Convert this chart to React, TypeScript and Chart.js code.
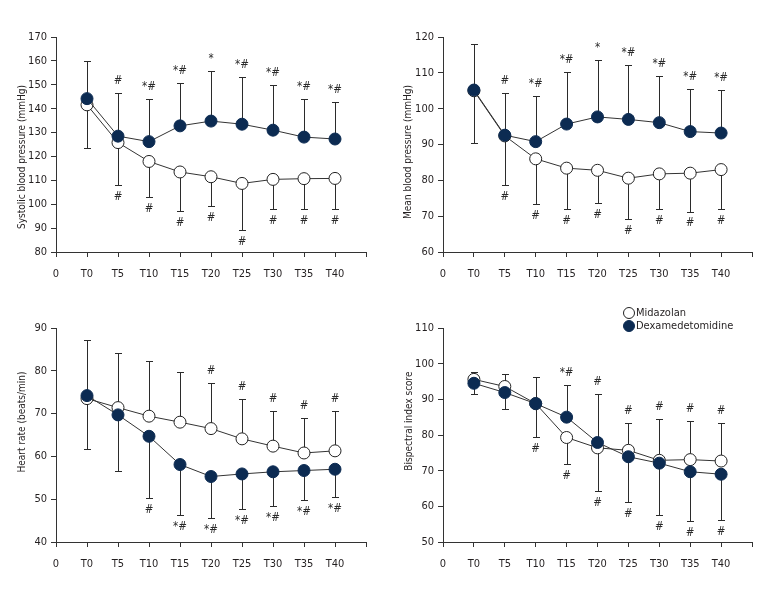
import React, { useEffect, useRef } from "react";
import { Chart, registerables } from "chart.js";

Chart.register(...registerables);

const FONT = '"Liberation Sans Narrow", "DejaVu Sans Condensed", "Liberation Sans", sans-serif';
const INK = "#231f20";
const NAVY = "#0c2b52";

// ---- categories / labels ----
const TIMEPOINTS = ["T0", "T5", "T10", "T15", "T20", "T25", "T30", "T35", "T40"];
const X_TICK_LABELS = ["0", ...TIMEPOINTS, ""];
const SERIES_NAMES = ["Midazolan", "Dexamedetomidine"];

// ---- Systolic blood pressure ----
const SBP_MID = [141.6, 125.8, 117.9, 113.5, 111.5, 108.7, 110.4, 110.7, 110.8];
const SBP_DEX = [144.2, 128.5, 126.2, 132.8, 134.8, 133.5, 131.0, 128.1, 127.3];
const SBP_DEX_UP = [160.1, 146.5, 144.0, 150.8, 155.6, 153.2, 149.8, 144.1, 142.7];
const SBP_MID_DOWN = [123.5, 107.9, 103.1, 97.3, 99.4, 89.3, 98.0, 98.2, 98.2];
const SBP_UP_MARKS = ["", "#", "*#", "*#", "*", "*#", "*#", "*#", "*#"];
const SBP_DOWN_MARKS = ["", "#", "#", "#", "#", "#", "#", "#", "#"];

// ---- Mean blood pressure ----
const MBP_MID = [105.0, 92.4, 86.0, 83.4, 82.8, 80.6, 81.8, 82.0, 83.0];
const MBP_DEX = [105.2, 92.6, 90.8, 95.7, 97.7, 97.0, 96.1, 93.6, 93.2];
const MBP_DEX_UP = [118.1, 104.3, 103.5, 110.2, 113.6, 112.1, 109.0, 105.4, 105.3];
const MBP_MID_DOWN = [90.3, 78.6, 73.3, 71.9, 73.8, 69.1, 72.1, 71.3, 72.1];
const MBP_UP_MARKS = ["", "#", "*#", "*#", "*", "*#", "*#", "*#", "*#"];
const MBP_DOWN_MARKS = ["", "#", "#", "#", "#", "#", "#", "#", "#"];

// ---- Heart rate ----
const HR_MID = [73.5, 71.4, 69.4, 68.0, 66.5, 64.1, 62.4, 60.8, 61.3];
const HR_DEX = [74.2, 69.7, 64.7, 58.1, 55.3, 55.9, 56.4, 56.7, 57.0];
const HR_MID_UP = [87.1, 84.1, 82.2, 79.7, 77.1, 73.5, 70.6, 68.9, 70.5];
const HR_DEX_DOWN = [61.7, 56.7, 50.3, 46.4, 45.7, 47.6, 48.4, 49.8, 50.5];
const HR_UP_MARKS = ["", "", "", "", "#", "#", "#", "#", "#"];
const HR_DOWN_MARKS = ["", "", "#", "*#", "*#", "*#", "*#", "*#", "*#"];

// ---- Bispectral index ----
const BIS_MID = [95.6, 93.6, 88.8, 79.3, 76.4, 75.7, 72.9, 73.1, 72.7];
const BIS_DEX = [94.5, 91.9, 88.8, 85.0, 77.9, 73.9, 72.1, 69.7, 69.0];
const BIS_MID_UP = [97.8, 97.2, 96.4, null, null, 83.5, 84.5, 84.0, 83.3];
const BIS_DEX_UP = [null, null, null, 94.1, 91.5, null, null, null, null];
const BIS_MID_DOWN = [null, null, null, 71.8, 64.3, null, null, null, null];
const BIS_DEX_DOWN = [91.6, 87.4, 79.3, null, null, 61.1, 57.5, 56.0, 56.3];
const BIS_MID_UP_MARKS = ["", "", "", "", "", "#", "#", "#", "#"];
const BIS_DEX_UP_MARKS = ["", "", "", "*#", "#", "", "", "", ""];
const BIS_MID_DOWN_MARKS = ["", "", "", "#", "#", "", "", "", ""];
const BIS_DEX_DOWN_MARKS = ["", "", "#", "", "", "#", "#", "#", "#"];

type Series = {
  mean: number[];
  up?: (number | null)[] | null;
  down?: (number | null)[] | null;
  upMarks?: string[] | null;
  downMarks?: string[] | null;
};

type PanelSpec = {
  title: string;
  yMin: number;
  yMax: number;
  mid: Series;
  dex: Series;
  box: { x: number; y: number; w: number; h: number };
  area: { l: number; r: number; t: number; b: number };
  titlePos: { x: number; y: number };
  legend: { x: number; y: number; gap: number } | null;
};

const PANELS: PanelSpec[] = [
  {
    title: "Systolic blood pressure (mmHg)",
    yMin: 80,
    yMax: 170,
    mid: { mean: SBP_MID, down: SBP_MID_DOWN, downMarks: SBP_DOWN_MARKS },
    dex: { mean: SBP_DEX, up: SBP_DEX_UP, upMarks: SBP_UP_MARKS },
    box: { x: 0, y: 0, w: 384, h: 300 },
    area: { l: 56, r: 366, t: 37, b: 252 },
    titlePos: { x: 22, y: 157 },
    legend: null,
  },
  {
    title: "Mean blood pressure (mmHg)",
    yMin: 60,
    yMax: 120,
    mid: { mean: MBP_MID, down: MBP_MID_DOWN, downMarks: MBP_DOWN_MARKS },
    dex: { mean: MBP_DEX, up: MBP_DEX_UP, upMarks: MBP_UP_MARKS },
    box: { x: 384, y: 0, w: 384, h: 300 },
    area: { l: 59, r: 368, t: 37, b: 252 },
    titlePos: { x: 24, y: 152 },
    legend: null,
  },
  {
    title: "Heart rate (beats/min)",
    yMin: 40,
    yMax: 90,
    mid: { mean: HR_MID, up: HR_MID_UP, upMarks: HR_UP_MARKS },
    dex: { mean: HR_DEX, down: HR_DEX_DOWN, downMarks: HR_DOWN_MARKS },
    box: { x: 0, y: 300, w: 384, h: 300 },
    area: { l: 56, r: 366, t: 28, b: 242 },
    titlePos: { x: 22, y: 122 },
    legend: null,
  },
  {
    title: "Bispectral index score",
    yMin: 50,
    yMax: 110,
    mid: {
      mean: BIS_MID,
      up: BIS_MID_UP,
      down: BIS_MID_DOWN,
      upMarks: BIS_MID_UP_MARKS,
      downMarks: BIS_MID_DOWN_MARKS,
    },
    dex: {
      mean: BIS_DEX,
      up: BIS_DEX_UP,
      down: BIS_DEX_DOWN,
      upMarks: BIS_DEX_UP_MARKS,
      downMarks: BIS_DEX_DOWN_MARKS,
    },
    box: { x: 384, y: 300, w: 384, h: 300 },
    area: { l: 59, r: 368, t: 28, b: 242 },
    titlePos: { x: 25, y: 121 },
    legend: { x: 245, y: 13, gap: 13 },
  },
];

const errorBarPlugin = {
  id: "errorBars",
  beforeDatasetsDraw(chart: any) {
    const ctx = chart.ctx;
    const ys = chart.scales.y;
    ctx.save();
    ctx.strokeStyle = "#2b2b2b";
    ctx.lineWidth = 1;
    chart.data.datasets.forEach((ds: any, di: number) => {
      const meta = chart.getDatasetMeta(di);
      meta.data.forEach((pt: any, i: number) => {
        [ds.errUp, ds.errDown].forEach((arr: any) => {
          if (!arr || arr[i] == null) return;
          const x = Math.round(pt.x) + 0.5;
          const yEnd = Math.round(ys.getPixelForValue(arr[i])) + 0.5;
          ctx.beginPath();
          ctx.moveTo(x, pt.y);
          ctx.lineTo(x, yEnd);
          ctx.moveTo(x - 3.5, yEnd);
          ctx.lineTo(x + 3.5, yEnd);
          ctx.stroke();
        });
      });
    });
    ctx.restore();
  },
  afterDatasetsDraw(chart: any) {
    const ctx = chart.ctx;
    const ys = chart.scales.y;
    ctx.save();
    ctx.fillStyle = "#2b2b2b";
    ctx.font = `11.5px ${FONT}`;
    ctx.textAlign = "center";
    ctx.textBaseline = "middle";
    chart.data.datasets.forEach((ds: any, di: number) => {
      const meta = chart.getDatasetMeta(di);
      meta.data.forEach((pt: any, i: number) => {
        if (ds.errUp && ds.markUp && ds.markUp[i] && ds.errUp[i] != null) {
          ctx.fillText(ds.markUp[i], pt.x, ys.getPixelForValue(ds.errUp[i]) - 12);
        }
        if (ds.errDown && ds.markDown && ds.markDown[i] && ds.errDown[i] != null) {
          ctx.fillText(ds.markDown[i], pt.x, ys.getPixelForValue(ds.errDown[i]) + 12);
        }
      });
    });
    ctx.restore();
  },
};

const yTitlePlugin = {
  id: "yTitle",
  afterDraw(chart: any, _args: any, opts: any) {
    if (!opts || !opts.text) return;
    const ctx = chart.ctx;
    ctx.save();
    ctx.translate(opts.x, opts.y);
    ctx.rotate(-Math.PI / 2);
    ctx.fillStyle = INK;
    ctx.font = `10px ${FONT}`;
    ctx.textAlign = "center";
    ctx.textBaseline = "middle";
    ctx.fillText(opts.text, 0, 0);
    ctx.restore();
  },
};

const legendPlugin = {
  id: "stackLegend",
  afterDraw(chart: any, _args: any, opts: any) {
    if (!opts || !opts.show) return;
    const ctx = chart.ctx;
    ctx.save();
    ctx.font = `11px ${FONT}`;
    ctx.textBaseline = "middle";
    ctx.textAlign = "left";
    const order = [1, 0]; // Midazolan first, then Dexamedetomidine
    order.forEach((di, row) => {
      const ds = chart.data.datasets[di];
      const cx = opts.x;
      const cy = opts.y + row * opts.gap;
      ctx.beginPath();
      ctx.arc(cx, cy, 5.5, 0, Math.PI * 2);
      ctx.fillStyle = ds.pointBackgroundColor;
      ctx.fill();
      ctx.lineWidth = 1;
      ctx.strokeStyle = ds.pointBorderColor;
      ctx.stroke();
      ctx.fillStyle = INK;
      ctx.fillText(ds.label, cx + 7, cy + 0.5);
    });
    ctx.restore();
  },
};

const toPoints = (vals: number[]) => vals.map((v, i) => ({ x: X_TICK_LABELS.indexOf(TIMEPOINTS[i]), y: v }));

function Panel({ spec }: { spec: PanelSpec }) {
  const ref = useRef<HTMLCanvasElement | null>(null);

  useEffect(() => {
    if (!ref.current) return;
    const { area, box } = spec;
    const xAxisH = 30;
    const chart = new Chart(ref.current, {
      type: "line",
      data: {
        datasets: [
          {
            label: SERIES_NAMES[1],
            data: toPoints(spec.dex.mean),
            borderColor: "#333333",
            borderWidth: 1,
            pointRadius: 6,
            pointBackgroundColor: NAVY,
            pointBorderColor: NAVY,
            pointBorderWidth: 1,
            tension: 0,
            errUp: spec.dex.up || null,
            errDown: spec.dex.down || null,
            markUp: spec.dex.upMarks || null,
            markDown: spec.dex.downMarks || null,
          } as any,
          {
            label: SERIES_NAMES[0],
            data: toPoints(spec.mid.mean),
            borderColor: "#333333",
            borderWidth: 1,
            pointRadius: 6,
            pointBackgroundColor: "#ffffff",
            pointBorderColor: "#222222",
            pointBorderWidth: 1,
            tension: 0,
            errUp: spec.mid.up || null,
            errDown: spec.mid.down || null,
            markUp: spec.mid.upMarks || null,
            markDown: spec.mid.downMarks || null,
          } as any,
        ],
      },
      options: {
        responsive: false,
        animation: false,
        layout: {
          padding: {
            left: 0,
            right: box.w - area.r,
            top: area.t,
            bottom: box.h - area.b - xAxisH,
          },
        },
        plugins: {
          legend: { display: false },
          tooltip: { enabled: false },
          yTitle: { text: spec.title, x: spec.titlePos.x, y: spec.titlePos.y },
          stackLegend: spec.legend
            ? { show: true, x: spec.legend.x, y: spec.legend.y, gap: spec.legend.gap }
            : { show: false },
        } as any,
        scales: {
          x: {
            type: "linear",
            min: 0,
            max: X_TICK_LABELS.length - 1,
            afterFit: (s: any) => {
              s.height = xAxisH;
            },
            grid: {
              drawOnChartArea: false,
              drawTicks: true,
              tickLength: 5,
              color: "#333333",
            },
            border: { display: true, color: "#333333", width: 1 },
            ticks: {
              stepSize: 1,
              autoSkip: false,
              maxRotation: 0,
              padding: 11,
              color: INK,
              font: { family: FONT, size: 11 },
              callback: (v: any) => {
                const lbl = X_TICK_LABELS[Math.round(Number(v))];
                return lbl === undefined ? "" : lbl;
              },
            },
          },
          y: {
            type: "linear",
            min: spec.yMin,
            max: spec.yMax,
            afterFit: (s: any) => {
              s.width = area.l;
            },
            grid: {
              drawOnChartArea: false,
              drawTicks: true,
              tickLength: 5,
              color: "#333333",
            },
            border: { display: true, color: "#333333", width: 1 },
            ticks: {
              stepSize: 10,
              padding: 4,
              color: INK,
              font: { family: FONT, size: 11 },
            },
          },
        },
      },
      plugins: [errorBarPlugin, yTitlePlugin, legendPlugin],
    });
    return () => chart.destroy();
  }, [spec]);

  return (
    <div
      style={{
        position: "absolute",
        left: spec.box.x,
        top: spec.box.y,
        width: spec.box.w,
        height: spec.box.h,
      }}
    >
      <canvas
        ref={ref}
        width={spec.box.w}
        height={spec.box.h}
        style={{ width: spec.box.w, height: spec.box.h, display: "block" }}
      />
    </div>
  );
}

export default function App() {
  return (
    <div
      style={{
        position: "absolute",
        left: 0,
        top: 0,
        width: 768,
        height: 600,
        background: "#ffffff",
        overflow: "hidden",
      }}
    >
      {PANELS.map((p) => (
        <Panel key={p.title} spec={p} />
      ))}
    </div>
  );
}
